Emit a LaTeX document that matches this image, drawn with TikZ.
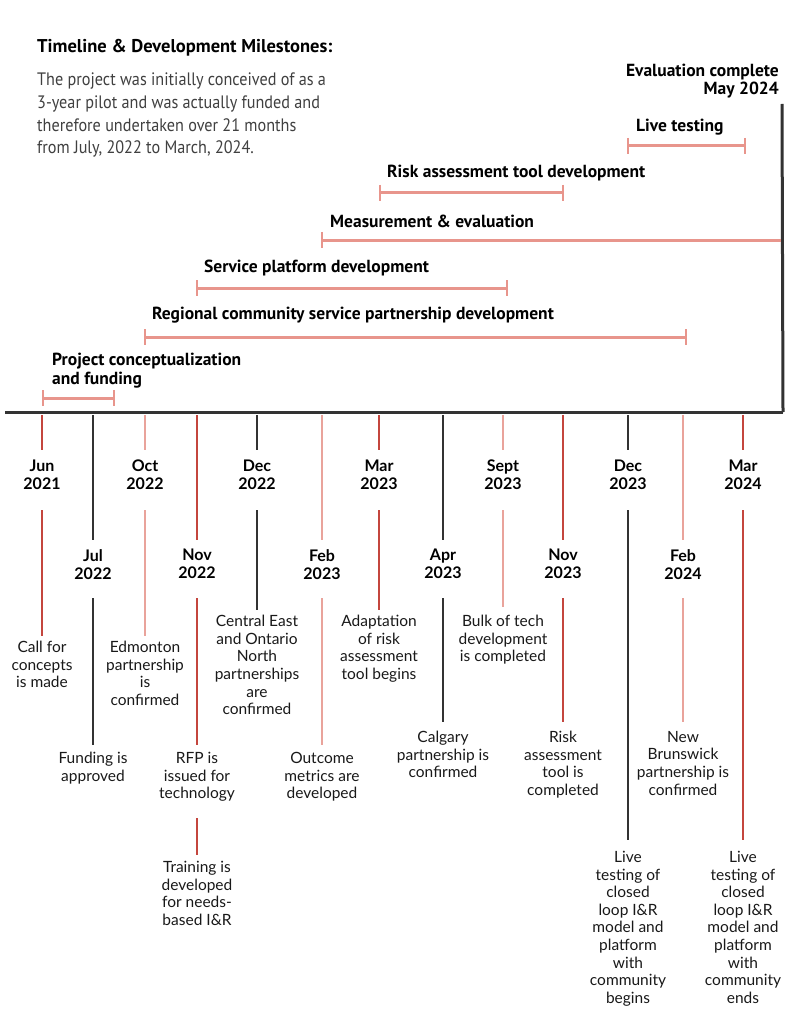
\documentclass[tikz,border=0pt]{standalone}
\usepackage{fontspec}
\setmainfont{Lato}
\newfontfamily\cond{PT Sans}
\newfontfamily\condp[FakeStretch=0.9]{PT Sans}
\definecolor{cred}{HTML}{C4463E}
\definecolor{cblk}{HTML}{333333}
\definecolor{cpink}{HTML}{E9A39B}
\definecolor{cbar}{HTML}{E8958C}
\begin{document}
\begin{tikzpicture}[x=1pt,y=-1pt,
  tick/.style={line width=2pt},
  bar/.style={cbar,line width=3pt},
  barlbl/.style={anchor=west,inner sep=0pt,font=\cond\bfseries\fontsize{17.5}{19}\selectfont,text=black},
  mon/.style={anchor=north,inner sep=0pt,align=center,font=\bfseries\fontsize{16}{18}\selectfont},
  desc/.style={anchor=north,inner sep=0pt,align=center,font=\fontsize{15.5}{17.6}\selectfont,text=black!90}]
\useasboundingbox (0,0) rectangle (791,1024);
\fill[white] (0,0) rectangle (791,1024);
% header
\node[anchor=west,inner sep=0pt,font=\cond\bfseries\fontsize{18.5}{20}\selectfont] (title) at (37,48) {Timeline \& Development Milestones:};
\node[anchor=north west,inner sep=0pt,align=left,text=black!75,font=\condp\fontsize{18}{22.6}\selectfont] (para) at (37,73)
 {The project was initially conceived of as a\\3-year pilot and was actually funded and\\therefore undertaken over 21 months\\from July, 2022 to March, 2024.};
\node[anchor=north east,inner sep=0pt,align=right,font=\cond\bfseries\fontsize{17.5}{18}\selectfont] (evalc) at (779,64) {Evaluation complete\\May 2024};
% axis
\coordinate (axL) at (5,412); \coordinate (axR) at (783,412); \coordinate (axT) at (782,104);
\draw[cblk,line width=3pt] (axL) -- (axR);
\draw[cblk,line width=3pt] (axR) -- (axT);
% bars
\newcommand\gbar[4]{\draw[bar] (#1,#3)--(#2,#3); \draw[bar,line width=2.5pt] (#1,#3-8)--(#1,#3+8); \ifdim#2pt<780pt\draw[bar,line width=2.5pt] (#2,#3-8)--(#2,#3+8);\fi}
\node[barlbl] (l1) at (636,127) {Live testing}; \gbar{628}{745}{146}{}
\node[barlbl] (l2) at (387,173) {Risk assessment tool development}; \gbar{380}{563}{193}{}
\node[barlbl] (l3) at (330,221) {Measurement \& evaluation}; \gbar{322}{781}{240}{}
\node[barlbl] (l4) at (204,268) {Service platform development}; \gbar{197}{507}{288}{}
\node[barlbl] (l5) at (152,315) {Regional community service partnership development}; \gbar{145}{686}{337}{}
\node[barlbl,anchor=north west,align=left] (l6) at (52,353) {Project conceptualization\\and funding}; \gbar{43}{114}{398}{}
% columns
\newcommand\seg[4]{\draw[tick,#2] (#1,#3)--(#1,#4);}
\foreach \x/\c/\m/\yy in {42/cred/Jun/2021,145/cpink/Oct/2022,257/cblk/Dec/2022,379/cred/Mar/2023,503/cpink/Sept/2023,628/cblk/Dec/2023,743/cred/Mar/2024}{
  \draw[tick,\c] (\x,415)--(\x,450);
  \node[mon] at (\x,460) {\m\\\yy};
}
\foreach \x/\c/\m/\yy in {93/cblk/Jul/2022,197/cred/Nov/2022,322/cpink/Feb/2023,443/cblk/Apr/2023,563/cred/Nov/2023,683/cpink/Feb/2024}{
  \draw[tick,\c] (\x,415)--(\x,540);
  \node[mon] at (\x,549) {\m\\\yy};
}
% lower segments and descriptions
\seg{42}{cred}{510}{636}   \node[desc] (d1) at (42,641) {Call for\\concepts\\is made};
\seg{145}{cpink}{510}{636} \node[desc] (d2) at (145,641) {Edmonton\\partnership\\is\\confirmed};
\seg{257}{cblk}{510}{610}  \node[desc] (d3) at (257,615) {Central East\\and Ontario\\North\\partnerships\\are\\confirmed};
\seg{379}{cred}{510}{610}  \node[desc] (d4) at (379,615) {Adaptation\\of risk\\assessment\\tool begins};
\seg{503}{cpink}{510}{607} \node[desc] (d5) at (503,615) {Bulk of tech\\development\\is completed};
\seg{628}{cblk}{510}{840}  \node[desc] (d6) at (628,851) {Live\\testing of\\closed\\loop I\&R\\model and\\platform\\with\\community\\begins};
\seg{743}{cred}{510}{840}  \node[desc] (d7) at (743,851) {Live\\testing of\\closed\\loop I\&R\\model and\\platform\\with\\community\\ends};
\seg{93}{cblk}{598}{745}   \node[desc] (d8) at (93,752) {Funding is\\approved};
\seg{197}{cred}{598}{745}  \node[desc] (d9) at (197,752) {RFP is\\issued for\\technology};
\seg{197}{cred}{818}{855}  \node[desc] (d10) at (197,861) {Training is\\developed\\for needs-\\based I\&R};
\seg{322}{cpink}{598}{745} \node[desc] (d11) at (322,752) {Outcome\\metrics are\\developed};
\seg{443}{cblk}{598}{722}  \node[desc] (d12) at (443,731) {Calgary\\partnership is\\confirmed};
\seg{563}{cred}{598}{722}  \node[desc] (d13) at (563,731) {Risk\\assessment\\tool is\\completed};
\seg{683}{cpink}{598}{722} \node[desc] (d14) at (683,731) {New\\Brunswick\\partnership is\\confirmed};
\end{tikzpicture}
\end{document}
